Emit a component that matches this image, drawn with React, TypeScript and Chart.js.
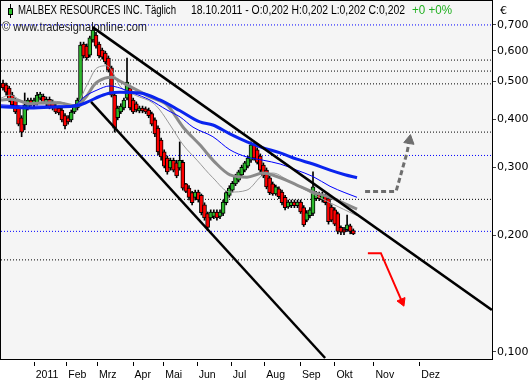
import React, { useEffect, useRef } from 'react';
import { Chart, registerables } from 'chart.js';
Chart.register(...registerables);

// ---- Data (prices in EUR, one candle per slot; slot ≈ 2 trading days) ----
const candleOpen = [
  .495,.490,.481,.461,.448,.427,.403,.386,.427,.448,
  .435,.440,.453,.458,.438,.450,.443,.432,.427,.422,
  .408,.403,.398,.417,.427,.438,.625,.617,.585,.640,
  .659,.625,.603,.592,.575,.542,.461,.403,.417,.427,
  .453,.481,.448,.438,.420,.427,.425,.422,.413,.398,
  .379,.353,.329,.317,.299,.313,.308,.299,.309,.272,
  .265,.258,.251,.259,.254,.240,.228,.222,.224,.230,
  .224,.228,.243,.254,.262,.272,.278,.287,.295,.302,
  .313,.343,.333,.321,.304,.295,.282,.272,.256,.264,
  .259,.251,.237,.239,.244,.239,.244,.236,.219,.225,
  .228,.249,.256,.247,.254,.249,.237,.233,.228,.210,
  .207,.207,.212,.206];
const candleHigh = [
  .504,.495,.486,.469,.453,.432,.408,.467,.453,.453,
  .453,.469,.469,.464,.456,.456,.448,.438,.432,.427,
  .413,.408,.422,.435,.453,.632,.632,.625,.655,.692,
  .670,.632,.610,.599,.582,.548,.467,.432,.438,.453,
  .575,.486,.453,.443,.432,.432,.430,.427,.417,.403,
  .384,.357,.333,.321,.317,.317,.313,.349,.313,.273,
  .269,.260,.262,.262,.256,.243,.230,.233,.233,.233,
  .233,.247,.260,.269,.276,.288,.295,.304,.311,.321,
  .349,.347,.337,.325,.308,.299,.285,.275,.270,.267,
  .262,.254,.247,.247,.247,.247,.247,.239,.232,.236,
  .292,.260,.259,.259,.256,.252,.240,.236,.230,.212,
  .210,.226,.214,.208];
const candleLow = [
  .475,.461,.443,.430,.413,.384,.360,.375,.422,.432,
  .430,.435,.448,.438,.432,.425,.422,.413,.410,.393,
  .377,.388,.393,.413,.422,.432,.575,.568,.578,.632,
  .610,.575,.571,.555,.529,.456,.370,.398,.413,.422,
  .448,.422,.413,.417,.415,.415,.413,.403,.384,.360,
  .323,.313,.299,.288,.295,.292,.282,.295,.262,.258,
  .247,.240,.247,.244,.226,.219,.206,.219,.221,.219,
  .221,.225,.240,.251,.259,.269,.275,.283,.292,.299,
  .309,.313,.306,.292,.282,.264,.255,.254,.254,.249,
  .240,.233,.235,.236,.236,.236,.228,.211,.217,.222,
  .225,.246,.246,.244,.240,.214,.217,.212,.202,.201,
  .201,.205,.202,.201];
const candleClose = [
  .481,.469,.448,.435,.417,.388,.370,.435,.448,.438,
  .448,.461,.464,.443,.450,.430,.427,.417,.415,.398,
  .384,.393,.417,.430,.448,.621,.582,.575,.648,.679,
  .617,.582,.578,.562,.535,.461,.379,.427,.432,.448,
  .498,.427,.417,.422,.427,.420,.417,.408,.388,.366,
  .329,.319,.302,.292,.313,.295,.285,.313,.265,.260,
  .251,.243,.259,.247,.229,.222,.210,.230,.230,.222,
  .230,.244,.258,.265,.273,.285,.292,.300,.308,.317,
  .343,.317,.309,.295,.285,.267,.258,.256,.267,.252,
  .243,.236,.244,.244,.239,.244,.230,.213,.229,.233,
  .267,.258,.249,.256,.243,.217,.219,.214,.205,.204,
  .204,.213,.205,.202];

// Moving averages (slot position, price)
const blueThickX = [-0.65, 8.7, 18.4, 23.2, 26.5, 31.3, 34.5, 37.7, 44.2, 50.6, 57.1, 63.5, 67.7, 73.2, 78.7, 83.9, 89.4, 94.8, 100, 105.5, 110.3, 114.2];
const blueThickY = [.430, .427, .430, .432, .440, .458, .467, .469, .467, .448, .420, .393, .386, .366, .349, .337, .327, .315, .306, .295, .287, .282];
const blueThinX = [-0.65, 8.7, 18.4, 23.2, 26.5, 30.3, 34.5, 37.7, 41.9, 47.4, 52.9, 57.1, 61.3, 67.7, 73.2, 78.7, 83.9, 89.4, 94.8, 100, 105.5, 110.3, 114.2];
const blueThinY = [.435, .432, .432, .435, .458, .475, .487, .481, .467, .448, .422, .405, .381, .360, .333, .319, .313, .306, .295, .284, .268, .258, .251];
const grayThickX = [-0.65, 2.3, 5.5, 8.7, 13.5, 18.4, 23.2, 26.5, 29.7, 32.9, 35.2, 37.7, 42.6, 47.4, 52.9, 58.1, 63.5, 68.4, 73.2, 78.7, 83.9, 89.4, 94.8, 100, 105.5, 114.2];
const grayThickY = [.448, .450, .445, .438, .440, .440, .432, .453, .493, .510, .513, .501, .478, .456, .435, .381, .343, .309, .287, .283, .290, .282, .270, .259, .251, .234];
const grayThinX = [-0.65, 2.3, 5.5, 8.7, 13.5, 18.4, 23.2, 27.1, 30.3, 33.5, 35.5, 37.7, 42.6, 48.4, 50.6, 53.9, 58.1, 62.6, 67.7, 73.2, 78.7, 83.9, 87.1, 92.6, 100, 105.5, 114.2];
const grayThinY = [.453, .461, .448, .435, .445, .443, .432, .490, .542, .549, .526, .487, .461, .440, .422, .386, .343, .313, .282, .259, .262, .287, .290, .275, .256, .243, .225];

// Drawn trend lines / levels / arrows
const upperLineX = [29.0, 157.7];
const upperLineY = [.690, .1284];
const lowerLineX = [28.4, 103.9];
const lowerLineY = [.443, .0965];
const blackLevels = [.568, .532, .493, .370, .248, .173];
const blueLevels = [.700, .322, .205];
const upArrowX = [116.8, 126.8, 130.3, 131.1];
const upArrowY = [.260, .260, .327, .352];
const downArrowX = [117.7, 121.9, 128.7];
const downArrowY = [.180, .180, .135];

const monthTickPos = [9.9, 20.4, 30.3, 41.8, 51.7, 62.5, 73.5, 84.3, 95.8, 106.9, 119.5, 134.3];
const monthLabels = ['2011', 'Feb', 'Mrz', 'Apr', 'Mai', 'Jun', 'Jul', 'Aug', 'Sep', 'Okt', 'Nov', 'Dez'];
const yTickValues = [0.1, 0.2, 0.3, 0.4, 0.5, 0.6, 0.7];
const yTickLabels = ['0,100', '0,200', '0,300', '0,400', '0,500', '0,600', '0,700'];

const headerName = 'MALBEX RESOURCES INC. Täglich';
const headerQuote = '18.10.2011 - O:0,202 H:0,202 L:0,202 C:0,202';
const headerChange = '+0 +0%';
const watermark = '© www.tradesignalonline.com';
const currency = '€';

const X_MIN = -0.65, X_MAX = 157.74;
const Y_MIN = 0.09592, Y_MAX = 0.8072;

const pts = (xs: number[], ys: number[]) => xs.map((x, i) => ({ x, y: ys[i] }));

function fitText(ctx: CanvasRenderingContext2D, text: string, x: number, y: number, w: number) {
  const m = ctx.measureText(text).width;
  ctx.save();
  ctx.translate(x, y);
  ctx.scale(w / m, 1);
  ctx.fillText(text, 0, 0);
  ctx.restore();
}

const zeroPad = (s: any) => {
  s.paddingLeft = 0;
  s.paddingRight = 0;
  s.paddingTop = 0;
  s.paddingBottom = 0;
};

const decorPlugin = {
  id: 'decor',
  beforeDraw(chart: any) {
    const { ctx, chartArea: a, width, height } = chart;
    ctx.save();
    ctx.fillStyle = '#ffffff';
    ctx.fillRect(0, 0, width, height);
    ctx.fillStyle = '#f5f5f5';
    ctx.fillRect(a.left, a.top, a.right - a.left, a.bottom - a.top);
    ctx.restore();
  },
  beforeDatasetsDraw(chart: any) {
    const { ctx } = chart;
    ctx.save();
    ctx.textBaseline = 'alphabetic';
    ctx.textAlign = 'left';
    ctx.font = "12px 'Liberation Sans'";
    ctx.fillStyle = '#000';
    fitText(ctx, headerName, 18, 14, 158);
    fitText(ctx, headerQuote, 191, 14, 214);
    ctx.fillStyle = '#1fb01f';
    fitText(ctx, headerChange, 412, 14, 40);
    ctx.fillStyle = '#222';
    fitText(ctx, watermark, 2, 31, 145);
    // candle icon
    ctx.strokeStyle = '#000';
    ctx.lineWidth = 1;
    ctx.beginPath();
    ctx.moveTo(10.5, 4);
    ctx.lineTo(10.5, 18);
    ctx.stroke();
    ctx.fillStyle = '#2cc02c';
    ctx.fillRect(8, 8, 5, 7);
    ctx.strokeRect(8.5, 8.5, 4, 6);
    ctx.restore();
  },
  afterDraw(chart: any) {
    const { ctx, chartArea: a, scales } = chart;
    ctx.save();
    ctx.strokeStyle = '#000';
    ctx.lineWidth = 1;
    ctx.strokeRect(a.left - 0.5, a.top - 0.5, a.right - a.left + 1, a.bottom - a.top + 1);
    ctx.beginPath();
    monthTickPos.forEach((v) => {
      const px = Math.round(scales.x.getPixelForValue(v)) + 0.5;
      ctx.moveTo(px, a.bottom + 3);
      ctx.lineTo(px, a.bottom + 7);
    });
    ctx.stroke();
    ctx.fillStyle = '#000';
    ctx.font = "11px 'DejaVu Sans'";
    ctx.textBaseline = 'alphabetic';
    ctx.fillText(currency, 500, 14);
    ctx.restore();
  },
};

export default function App() {
  const ref = useRef<HTMLCanvasElement>(null);
  useEffect(() => {
    document.body.style.margin = '0';
    const idx = candleOpen.map((_, i) => i);
    const bodyColors = idx.map((i) => (candleClose[i] >= candleOpen[i] ? '#2cb82c' : '#ff0000'));
    const levelSet = (vals: number[], color: string) =>
      vals.map((v) => ({
        type: 'line',
        data: [{ x: X_MIN, y: v }, { x: X_MAX, y: v }],
        borderColor: color,
        borderWidth: 1,
        borderDash: [1, 2],
        pointRadius: 0,
        fill: false,
        order: 60,
      }));
    const maLine = (xs: number[], ys: number[], color: string, w: number, order: number) => ({
      type: 'line',
      data: pts(xs, ys),
      borderColor: color,
      borderWidth: w,
      pointRadius: 0,
      fill: false,
      cubicInterpolationMode: 'monotone',
      order,
    });
    const chart = new Chart(ref.current as HTMLCanvasElement, {
      type: 'bar',
      data: {
        datasets: [
          ...levelSet(blackLevels, '#000000'),
          ...levelSet(blueLevels, '#0000ff'),
          {
            type: 'bar',
            data: idx.map((i) => ({ x: i, y: [candleLow[i], candleHigh[i]] })),
            backgroundColor: '#000',
            borderWidth: 0,
            barThickness: 1,
            grouped: false,
            order: 50,
          },
          {
            type: 'bar',
            data: idx.map((i) => ({ x: i, y: [candleOpen[i], candleClose[i]] })),
            backgroundColor: bodyColors,
            borderColor: '#000',
            borderWidth: 1,
            borderSkipped: false,
            barThickness: 4,
            grouped: false,
            order: 45,
          },
          maLine(grayThinX, grayThinY, '#9a9a9a', 1, 24),
          maLine(grayThickX, grayThickY, '#8a8a8a', 3, 23),
          maLine(blueThinX, blueThinY, '#0000ff', 1, 22),
          maLine(blueThickX, blueThickY, '#0a24ee', 3, 21),
          { type: 'line', data: pts(upperLineX, upperLineY), borderColor: '#000', borderWidth: 2.5, pointRadius: 0, order: 10 },
          { type: 'line', data: pts(lowerLineX, lowerLineY), borderColor: '#000', borderWidth: 2.5, pointRadius: 0, order: 10 },
          {
            type: 'line',
            data: pts(upArrowX, upArrowY),
            borderColor: '#6e6e6e',
            borderWidth: 3,
            borderDash: [5, 3],
            pointRadius: 0,
            order: 5,
          },
          {
            type: 'line',
            data: [{ x: upArrowX[upArrowX.length - 1], y: upArrowY[upArrowY.length - 1] }],
            showLine: false,
            pointStyle: 'triangle',
            pointRadius: 6,
            pointRotation: 10,
            pointBackgroundColor: '#6e6e6e',
            pointBorderColor: '#6e6e6e',
            pointBorderWidth: 1,
            order: 4,
          },
          {
            type: 'line',
            data: pts(downArrowX, downArrowY),
            borderColor: '#ff0000',
            borderWidth: 2,
            pointRadius: 0,
            order: 5,
          },
          {
            type: 'line',
            data: [{ x: downArrowX[downArrowX.length - 1], y: downArrowY[downArrowY.length - 1] }],
            showLine: false,
            pointStyle: 'triangle',
            pointRadius: 5,
            pointRotation: 157,
            pointBackgroundColor: '#ff0000',
            pointBorderColor: '#ff0000',
            pointBorderWidth: 1,
            order: 4,
          },
        ] as any,
      },
      options: {
        responsive: false,
        animation: false,
        devicePixelRatio: 1,
        events: [],
        layout: { autoPadding: false, padding: { left: 1, top: 1, right: 0, bottom: 0 } },
        plugins: { legend: { display: false }, tooltip: { enabled: false }, title: { display: false } },
        scales: {
          x: {
            type: 'linear',
            position: 'bottom',
            min: X_MIN,
            max: X_MAX,
            offset: false,
            grid: { display: false },
            border: { display: false },
            afterBuildTicks: (s: any) => {
              s.ticks = monthTickPos.map((v) => ({ value: v }));
            },
            afterFit: (s: any) => {
              s.height = 21;
              zeroPad(s);
            },
            ticks: {
              autoSkip: false,
              maxRotation: 0,
              minRotation: 0,
              align: 'start',
              labelOffset: 2,
              padding: 2,
              color: '#000',
              font: { family: 'Liberation Sans', size: 10.5 },
              callback: (_v: any, i: number) => monthLabels[i],
            },
          },
          y: {
            type: 'logarithmic',
            position: 'right',
            min: Y_MIN,
            max: Y_MAX,
            grid: { drawOnChartArea: false, drawTicks: true, tickLength: 4, color: '#444' },
            border: { display: false },
            afterBuildTicks: (s: any) => {
              s.ticks = yTickValues.map((v) => ({ value: v }));
            },
            afterFit: (s: any) => {
              s.width = 39;
              zeroPad(s);
            },
            ticks: {
              padding: 1,
              color: '#000',
              font: { family: 'DejaVu Sans', size: 11 },
              callback: (_v: any, i: number) => yTickLabels[i],
            },
          },
        },
      } as any,
      plugins: [decorPlugin],
    });
    return () => chart.destroy();
  }, []);
  return <canvas ref={ref} width={531} height={380} style={{ display: 'block', width: 531, height: 380 }} />;
}
